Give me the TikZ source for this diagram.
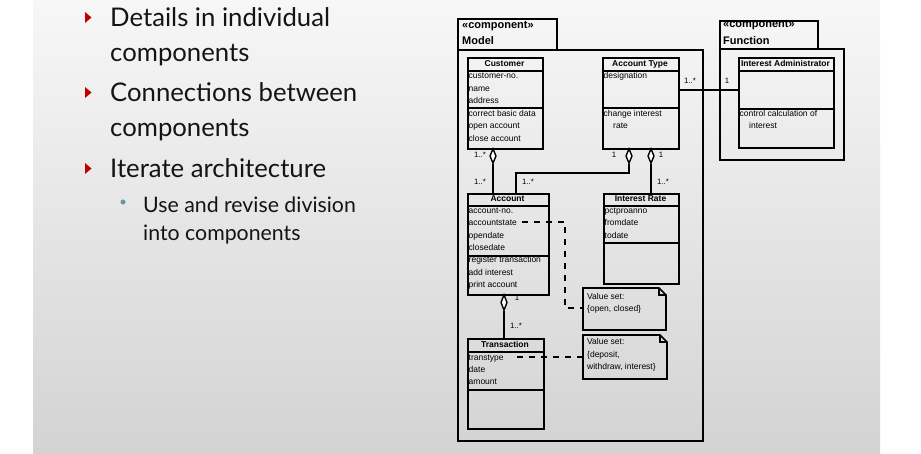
\documentclass[tikz,border=0pt]{standalone}
\usepackage{fontspec}
\setmainfont{Liberation Sans}
\newfontfamily\slidefont{Lato}
\usetikzlibrary{shapes.geometric,calc}
\definecolor{bulletred}{RGB}{192,0,0}
\definecolor{subdot}{RGB}{100,150,165}
\definecolor{bgtop}{RGB}{247,247,247}
\definecolor{bgbot}{RGB}{211,211,211}
\newcommand\ubox[6]{\node[#6, minimum width={(#4-#2)*1pt}, minimum height={(#5-#3)*1pt}] (#1) at (#2,#3) {};}
\begin{document}
\begin{tikzpicture}[x=1pt,y=-1pt,
  classbox/.style={draw,line width=1.6pt,inner sep=0pt,anchor=north west},
  compbox/.style={draw,line width=2pt,inner sep=0pt,anchor=north west},
  sepline/.style={line width=1.2pt},
  attr/.style={anchor=base west,inner sep=0pt,font=\fontsize{8.5}{10}\selectfont},
  ttl/.style={anchor=base,inner sep=0pt,font=\fontsize{8.5}{10}\selectfont\bfseries},
  mult/.style={anchor=base,inner sep=0pt,font=\fontsize{7.8}{9}\selectfont},
  stereo/.style={anchor=base west,inner sep=0pt,font=\fontsize{11}{12}\selectfont\bfseries},
  agg/.style={diamond,draw,fill=white,line width=1.4pt,inner sep=0pt,minimum width=6.5pt,minimum height=15pt},
  thickassoc/.style={line width=2.8pt},
  thinassoc/.style={line width=1.4pt},
  dashline/.style={line width=1.3pt,dash pattern=on 6pt off 6pt},
  notebox/.style={line width=1.6pt,line join=miter},
  slidetext/.style={anchor=base west,inner sep=0pt,font=\slidefont\fontsize{25.7}{30}\selectfont,text=black!92},
  subtext/.style={anchor=base west,inner sep=0pt,font=\slidefont\fontsize{21.3}{25}\selectfont,text=black!92},
  tri/.style={fill=bulletred}
]
\useasboundingbox (0,0) rectangle (921,454);
\shade[top color=bgtop,bottom color=bgbot] (33,0) rectangle (880,454);

% ---------- slide text ----------
\fill[tri] (85,12) -- (91.5,17.5) -- (85,23) -- cycle;
\node[slidetext] (t1a) at (110,27) {Details in individual};
\node[slidetext] (t1b) at (110,62) {components};
\fill[tri] (85,87) -- (91.5,92.5) -- (85,98) -- cycle;
\node[slidetext] (t2a) at (110,102) {Connections between};
\node[slidetext] (t2b) at (110,137) {components};
\fill[tri] (85,163) -- (91.5,168.5) -- (85,174) -- cycle;
\node[slidetext] (t3a) at (110,178) {Iterate architecture};
\fill[subdot] (123,202) circle (2.5);
\node[subtext] (t4a) at (143,213) {Use and revise division};
\node[subtext] (t4b) at (143,241) {into components};

% ---------- components ----------
\ubox{modeltab}{457}{18}{556}{49}{compbox}
\ubox{modelbody}{457}{49}{702}{440}{compbox}
\node[stereo] (mst) at (462,29) {«component»};
\node[stereo] (mnm) at (462,45) {Model};
\ubox{functab}{719}{20}{817}{48}{compbox}
\ubox{funcbody}{719}{48}{843}{159}{compbox}
\node[stereo] (fst) at (723,28) {«component»};
\node[stereo] (fnm) at (723,45) {Function};

% ---------- classes ----------
\ubox{cust}{467}{57}{542}{148}{classbox}
\draw[sepline] (467,71) -- (542,71);
\draw[sepline] (467,108) -- (542,108);
\node[ttl] (cust-t) at (504.5,66.5) {Customer};
\foreach \t [count=\i from 0] in {customer-no.,name,address}
  \node[attr] (cust-a\i) at (468.5,{79+12.5*\i}) {\t};
\foreach \t [count=\i from 0] in {correct basic data,open account,close account}
  \node[attr] (cust-o\i) at (468.5,{116.5+12.5*\i}) {\t};

\ubox{acctype}{602}{57}{678}{148}{classbox}
\draw[sepline] (602,71) -- (678,71);
\draw[sepline] (602,108) -- (678,108);
\node[ttl] (acctype-t) at (640,66.5) {Account Type};
\node[attr] (acctype-a0) at (603.5,79) {designation};
\node[attr] (acctype-o0) at (603.5,116.5) {change interest};
\node[attr] (acctype-o1) at (613,128.5) {rate};

\ubox{acct}{467}{193}{548}{294}{classbox}
\draw[sepline] (467,206) -- (548,206);
\draw[sepline] (467,256) -- (548,256);
\node[ttl] (acct-t) at (507.5,202) {Account};
\foreach \t [count=\i from 0] in {account-no.,accountstate,opendate,closedate}
  \node[attr] (acct-a\i) at (468.5,{213.5+12.4*\i}) {\t};
\foreach \t [count=\i from 0] in {register transaction,add interest,print account}
  \node[attr] (acct-o\i) at (468.5,{263+12.3*\i}) {\t};

\ubox{irate}{603}{193}{678}{283}{classbox}
\draw[sepline] (603,206) -- (678,206);
\draw[sepline] (603,243) -- (678,243);
\node[ttl] (irate-t) at (640.5,202) {Interest Rate};
\foreach \t [count=\i from 0] in {pctproanno,fromdate,todate}
  \node[attr] (irate-a\i) at (604.5,{213.5+12.4*\i}) {\t};

\ubox{trans}{467}{338}{543}{428}{classbox}
\draw[sepline] (467,352) -- (543,352);
\draw[sepline] (467,390) -- (543,390);
\node[ttl] (trans-t) at (505,347.5) {Transaction};
\foreach \t [count=\i from 0] in {transtype,date,amount}
  \node[attr] (trans-a\i) at (468.5,{360.5+12.2*\i}) {\t};

\ubox{iadmin}{738}{57}{833}{147}{classbox}
\draw[sepline] (738,71) -- (833,71);
\draw[sepline] (738,109) -- (833,109);
\node[ttl] (iadmin-t) at (785.5,66.5) {Interest Administrator};
\node[attr] (iadmin-o0) at (739.5,116.5) {control calculation of};
\node[attr] (iadmin-o1) at (749,128.5) {interest};

% ---------- notes ----------
\draw[notebox] (583,288) -- (659,288) -- (666,295) -- (666,330) -- (583,330) -- cycle;
\draw[notebox] (659,288) -- (659,295) -- (666,295);
\coordinate (note1) at (583,308);
\node[attr] (n1a) at (587,299.5) {Value set:};
\node[attr] (n1b) at (587,311.5) {\{open, closed\}};

\draw[notebox] (583,335) -- (660,335) -- (667,342) -- (667,379) -- (583,379) -- cycle;
\draw[notebox] (660,335) -- (660,342) -- (667,342);
\coordinate (note2) at (583,357);
\node[attr] (n2a) at (587,344.5) {Value set:};
\node[attr] (n2b) at (587,357) {\{deposit,};
\node[attr] (n2c) at (587,369.5) {withdraw, interest\}};

% ---------- connectors ----------
\node[agg] (d1) at (493,156) {};
\draw[thickassoc] (d1.south) -- (d1.south |- acct.north);
\node[agg] (d2) at (629,156) {};
\coordinate (bend) at (516,173);
\draw[thinassoc] (d2.south) |- (bend) -- (bend |- acct.north);
\node[agg] (d3) at (651,156) {};
\draw[thickassoc] (d3.south) -- (d3.south |- irate.north);
\node[agg,minimum height=16pt] (d4) at (504,302.5) {};
\draw[line width=2.5pt] (d4.south) -- (d4.south |- trans.north);
\coordinate (lnk) at (678,90);
\draw[line width=1.2pt] (lnk) -- (lnk -| iadmin.west);

\coordinate (ds1) at (522,222);
\coordinate (dc1) at (565,222);
\draw[dashline] (ds1) -- (dc1) -- (dc1 |- note1) -- (note1);
\fill (ds1) ++(0,-1.3) rectangle ++(4,2.6);
\fill (note1) ++(-1.5,-2) rectangle ++(2,4);
\coordinate (ds2) at (517,357);
\draw[dashline] (ds2) -- (note2);
\fill (ds2) ++(0,-1.3) rectangle ++(4,2.6);
\fill (note2) ++(-1.5,-2) rectangle ++(2,4);

% ---------- multiplicities ----------
\node[mult] (m1) at (480,158) {1..*};
\node[mult] (m2) at (480,185) {1..*};
\node[mult] (m3) at (614,158) {1};
\node[mult] (m4) at (661,158) {1};
\node[mult] (m5) at (528,185) {1..*};
\node[mult] (m6) at (663,185) {1..*};
\node[mult] (m7) at (517,301) {1};
\node[mult] (m8) at (516,329) {1..*};
\node[mult] (m9) at (690,84) {1..*};
\node[mult] (m10) at (727,84) {1};
\end{tikzpicture}
\end{document}
